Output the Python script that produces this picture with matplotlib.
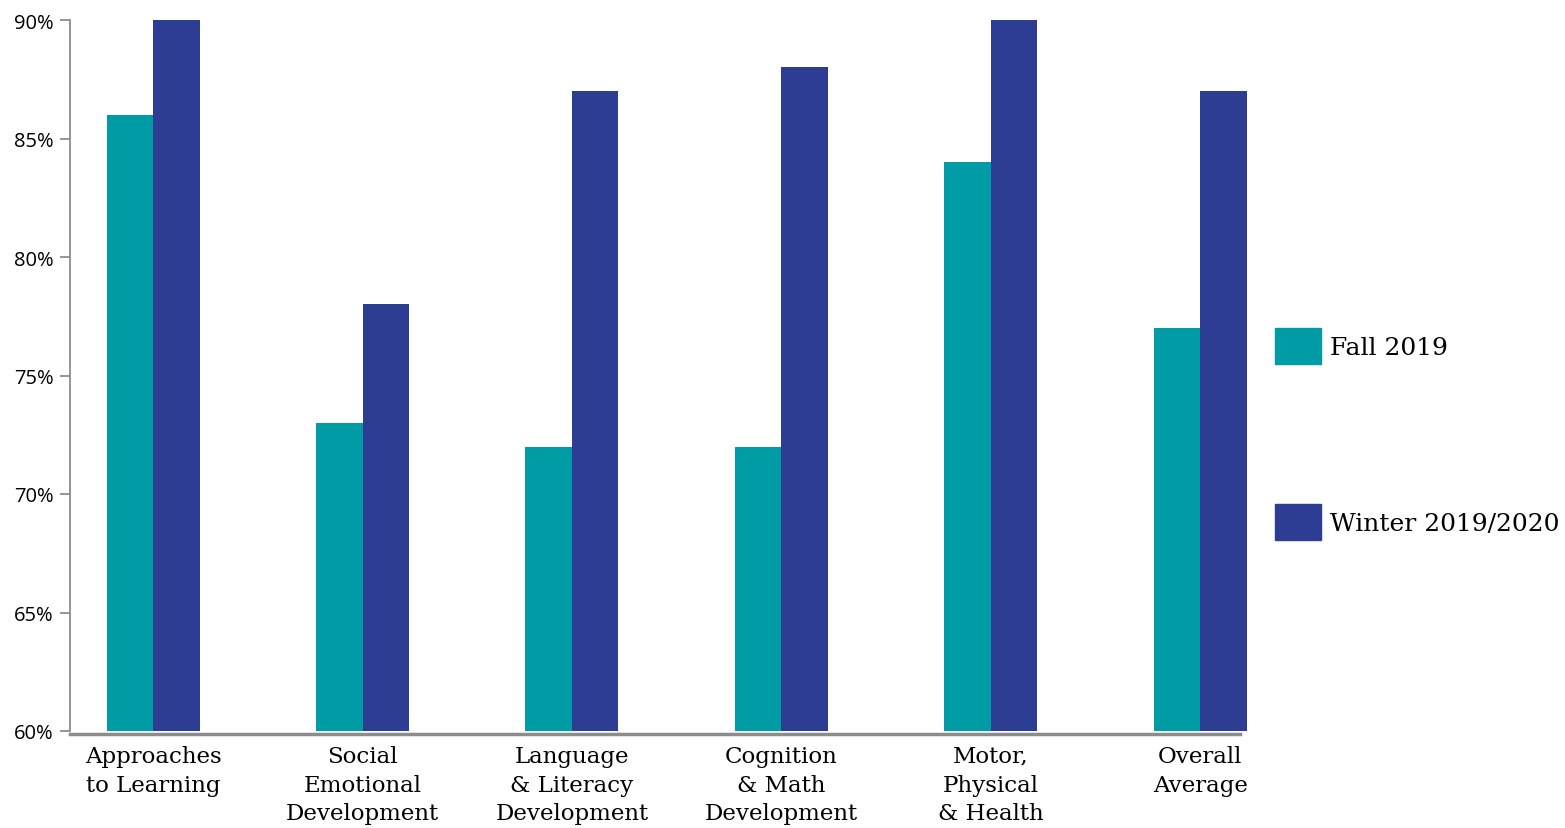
import numpy as np
import matplotlib
matplotlib.use('Agg')
import matplotlib.pyplot as plt
from matplotlib.patches import Patch
from matplotlib.ticker import FuncFormatter

# Dados
categories = ['Approaches\nto Learning', 'Social\nEmotional\nDevelopment',
              'Language\n& Literacy\nDevelopment', 'Cognition\n& Math\nDevelopment',
              'Motor,\nPhysical\n& Health', 'Overall\nAverage']
fall_2019 = [86, 73, 72, 72, 84, 77]
winter_2020 = [90, 78, 87, 88, 90, 87]
series_labels = ['Fall 2019', 'Winter 2019/2020']
colors = ['#009ca6', '#2e3d94']

fig = plt.figure(figsize=(15.65, 8.29), dpi=100)
ax = fig.add_axes([70 / 1565, 1 - 732 / 829, 1180 / 1565, 711 / 829])

x = np.arange(len(categories))
w = 0.222
ax.bar(x - w / 2, fall_2019, width=w, color=colors[0])
ax.bar(x + w / 2, winter_2020, width=w, color=colors[1])

ax.set_ylim(60, 90)
ax.set_xlim(-0.397, 5.238)
ax.set_yticks(range(60, 91, 5))
ax.yaxis.set_major_formatter(FuncFormatter(lambda v, p: f'{int(v)}%'))
ax.set_xticks(x)
ax.set_xticklabels(categories)

# Eixos
for s in ['top', 'right']:
    ax.spines[s].set_visible(False)
ax.spines['left'].set_color('#8c8c8c')
ax.spines['left'].set_linewidth(1.3)
ax.spines['bottom'].set_color('#8c8c8c')
ax.spines['bottom'].set_linewidth(2.5)
ax.spines['bottom'].set_bounds(-0.397, 5.19)
ax.spines['bottom'].set_position(('outward', 2))
ax.tick_params(axis='y', length=7, width=1.3, color='#8c8c8c', pad=5)
ax.tick_params(axis='x', length=0, pad=8)

for lbl in ax.get_xticklabels():
    lbl.set_family('DejaVu Serif')
    lbl.set_fontsize(16.5)
    lbl.set_linespacing(1.4)
for lbl in ax.get_yticklabels():
    lbl.set_family('Open Sans')
    lbl.set_fontsize(14.5)

# Legenda
handles = [Patch(color=c) for c in colors]
fig.legend(handles, series_labels, loc='center left', bbox_to_anchor=(1275 / 1565, 1 - 435 / 829),
           frameon=False, prop={'family': 'DejaVu Serif', 'size': 18},
           handlelength=1.85, handleheight=1.85, handletextpad=0.35,
           labelspacing=5.6, borderpad=0, borderaxespad=0)

fig.savefig('out.png', dpi=100)
